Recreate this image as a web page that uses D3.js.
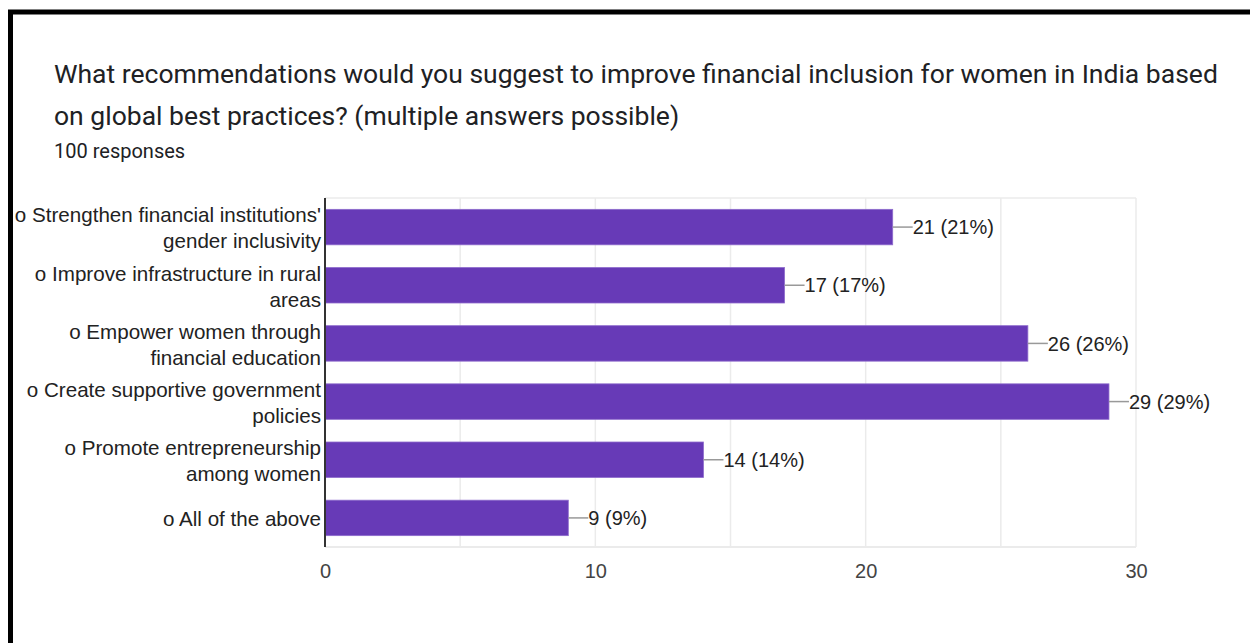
<!DOCTYPE html>
<html>
<head>
<meta charset="utf-8">
<script src="https://cdn.jsdelivr.net/npm/d3@7"></script>
<style>
  html, body { margin: 0; padding: 0; background: #fff; }
  svg { display: block; }
</style>
</head>
<body>
<svg id="chart" width="1250" height="643"></svg>
<script>
// Survey answers (two-line labels) and response counts
const categories = [
  ["o Strengthen financial institutions'", "gender inclusivity"],
  ["o Improve infrastructure in rural", "areas"],
  ["o Empower women through", "financial education"],
  ["o Create supportive government", "policies"],
  ["o Promote entrepreneurship", "among women"],
  ["o All of the above"]
];
const counts = [21, 17, 26, 29, 14, 9];
const totalResponses = 100;
const tickValues = [0, 10, 20, 30];
const gridValues = [5, 10, 15, 20, 25, 30];

const titleLines = [
  "What recommendations would you suggest to improve financial inclusion for women in India based",
  "on global best practices? (multiple answers possible)"
];
const subtitle = "100 responses";

const svg = d3.select("#chart");
const W = 1250, H = 643;

// Card frame
svg.append("rect").attr("x", 0).attr("y", 0).attr("width", W).attr("height", H).attr("fill", "#fff");
svg.append("path")
  .attr("d", `M10.5,${H + 5} L10.5,12 L${W + 5},12`)
  .attr("fill", "none").attr("stroke", "#000").attr("stroke-width", 5);

// Title and response count
const titleG = svg.append("g").attr("font-family", "Roboto, 'Noto Sans', sans-serif").attr("fill", "#202124");
titleLines.forEach((t, i) => {
  titleG.append("text").attr("x", 54).attr("y", 83 + i * 41.5)
    .attr("font-size", 26.5).text(t);
});
titleG.append("text").attr("x", 54).attr("y", 158).attr("font-size", 20).text(subtitle);

// Plot area
const plot = { left: 325, right: 1136, top: 198, bottom: 547 };
const x = d3.scaleLinear().domain([0, 30]).range([plot.left, plot.right]);
const y = d3.scaleBand().domain(d3.range(categories.length))
  .range([plot.top, plot.bottom]).paddingInner(0.39).paddingOuter(0.195);

// Grid
svg.append("g").selectAll("line").data(gridValues).join("line")
  .attr("x1", d => x(d)).attr("x2", d => x(d))
  .attr("y1", plot.top).attr("y2", plot.bottom)
  .attr("stroke", "#ebebeb").attr("stroke-width", 1.5);
svg.append("line").attr("x1", plot.left).attr("x2", plot.right)
  .attr("y1", plot.top).attr("y2", plot.top).attr("stroke", "#ebebeb").attr("stroke-width", 1.5);
svg.append("line").attr("x1", plot.left).attr("x2", plot.right)
  .attr("y1", plot.bottom).attr("y2", plot.bottom).attr("stroke", "#ebebeb").attr("stroke-width", 2);

// Bars
svg.append("g").selectAll("rect").data(counts).join("rect")
  .attr("x", x(0))
  .attr("y", (d, i) => y(i))
  .attr("width", d => x(d) - x(0))
  .attr("height", y.bandwidth())
  .attr("fill", "#673ab7")
  .attr("stroke", "#8e6bcc").attr("stroke-width", 0.8);

// Zero axis line
svg.append("line").attr("x1", plot.left).attr("x2", plot.left)
  .attr("y1", plot.top).attr("y2", plot.bottom)
  .attr("stroke", "#333").attr("stroke-width", 2);

// Value labels with leader lines
const valG = svg.append("g").attr("font-family", "'Liberation Sans', Arial, sans-serif").attr("font-size", 20).attr("fill", "#222");
counts.forEach((d, i) => {
  const cy = y(i) + y.bandwidth() / 2;
  valG.append("line").attr("x1", x(d)).attr("x2", x(d) + 20)
    .attr("y1", cy).attr("y2", cy).attr("stroke", "#999").attr("stroke-width", 1.5);
  valG.append("text").attr("x", x(d) + 20).attr("y", cy).attr("dy", "0.36em")
    .text(`${d} (${Math.round(d / totalResponses * 100)}%)`);
});

// Category labels
const catG = svg.append("g").attr("font-family", "'Liberation Sans', Arial, sans-serif")
  .attr("font-size", 20.6).attr("fill", "#222").attr("text-anchor", "end");
categories.forEach((lines, i) => {
  const cy = y(i) + y.bandwidth() / 2;
  const lh = 26;
  lines.forEach((t, j) => {
    catG.append("text").attr("x", plot.left - 4)
      .attr("y", cy + 1 + (j - (lines.length - 1) / 2) * lh)
      .attr("dy", "0.36em").text(t);
  });
});

// X axis tick labels
const xAxis = d3.axisBottom(x).tickValues(tickValues).tickSize(0).tickPadding(17);
const ax = svg.append("g").attr("transform", `translate(0,${plot.bottom})`).call(xAxis);
ax.select(".domain").remove();
ax.selectAll("text").attr("font-family", "'Liberation Sans', Arial, sans-serif")
  .attr("font-size", 20).attr("fill", "#444");
</script>
</body>
</html>
